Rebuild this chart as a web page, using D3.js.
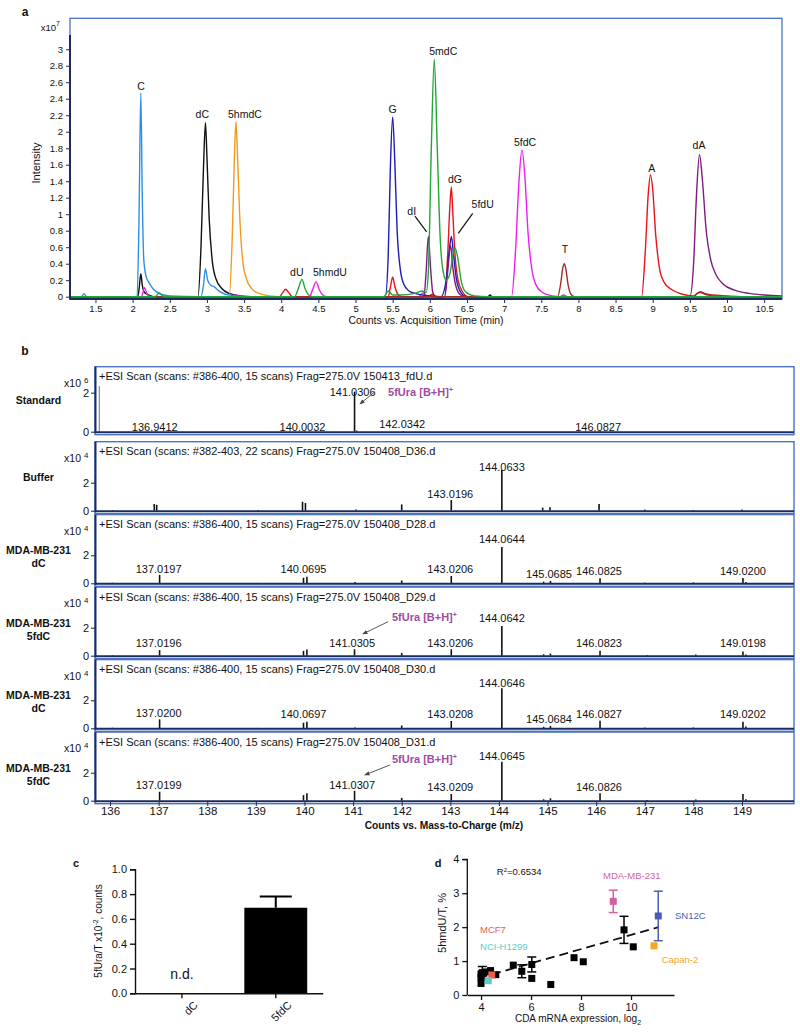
<!DOCTYPE html>
<html><head><meta charset="utf-8">
<script src="https://cdn.jsdelivr.net/npm/d3@7"></script>
<style>
body{margin:0;background:#fff}
svg{display:block}
text{font-family:"Liberation Sans",Arial,Helvetica,sans-serif;fill:#111}
</style></head>
<body><svg id="fig" width="800" height="1034"></svg>
<script>
// ================= DATA =================
// ---- panel a: chromatogram traces [time (min), intensity x10^7]
const aXTicks = [1.5,2,2.5,3,3.5,4,4.5,5,5.5,6,6.5,7,7.5,8,8.5,9,9.5,10,10.5];
const aYTicks = [0,0.2,0.4,0.6,0.8,1,1.2,1.4,1.6,1.8,2,2.2,2.4,2.6,2.8,3];
const traceBlack = [[1.157,0],[2.07,0],[2.09,0.12],[2.11,0.28],[2.13,0.14],[2.16,0.05],[2.22,0.02],[2.3,0],[2.88,0],[2.92,0.6],[2.955,1.6],[2.98,2.11],[3.0,1.7],[3.03,0.95],[3.07,0.45],[3.12,0.22],[3.2,0.1],[3.3,0.04],[3.45,0.01],[3.6,0],[6.78,0],[6.81,0.02],[6.84,0],[10.74,0]];
const traceLightBlue = [[1.157,0],[1.31,0],[1.345,0.035],[1.38,0],[2.06,0],[2.085,0.9],[2.11,2.47],[2.13,1.2],[2.15,0.45],[2.18,0.25],[2.22,0.17],[2.28,0.09],[2.38,0.03],[2.5,0.01],[2.92,0],[2.955,0.15],[2.98,0.34],[3.01,0.2],[3.05,0.14],[3.1,0.12],[3.16,0.07],[3.25,0.03],[3.4,0.01],[3.6,0],[10.74,0]];
const traceOrange = [[1.157,0],[3.3,0],[3.34,0.7],[3.37,1.7],[3.39,2.12],[3.41,1.75],[3.44,1.0],[3.48,0.45],[3.53,0.22],[3.6,0.1],[3.7,0.04],[3.85,0.01],[4.0,0],[6.0,0],[6.05,0.02],[6.1,0],[10.74,0]];
const traceMagenta = [[1.157,0],[2.12,0],[2.16,0.11],[2.2,0.02],[2.25,0],[3.35,0],[3.39,0.025],[3.43,0],[4.38,0],[4.42,0.08],[4.47,0.18],[4.51,0.09],[4.56,0.02],[4.62,0],[5.85,0],[5.91,0.05],[5.96,0],[7.1,0],[7.15,0.5],[7.2,1.4],[7.24,1.78],[7.28,1.45],[7.32,0.8],[7.37,0.35],[7.43,0.14],[7.52,0.05],[7.65,0.01],[7.75,0],[7.8,0.02],[7.85,0],[10.74,0]];
const traceRed = [[1.157,0],[3.98,0],[4.02,0.05],[4.06,0.09],[4.1,0.05],[4.15,0],[5.44,0],[5.47,0.12],[5.5,0.235],[5.53,0.12],[5.57,0.03],[5.62,0],[5.98,0],[6.03,0.03],[6.08,0],[6.2,0],[6.24,0.5],[6.27,1.1],[6.29,1.33],[6.31,1.0],[6.34,0.5],[6.38,0.2],[6.44,0.06],[6.52,0],[8.85,0],[8.9,0.55],[8.94,1.25],[8.97,1.48],[9.0,1.3],[9.04,0.75],[9.09,0.35],[9.15,0.18],[9.25,0.09],[9.4,0.03],[9.55,0.01],[9.6,0.04],[9.64,0.06],[9.7,0.04],[9.8,0.02],[10.0,0.01],[10.3,0],[10.74,0]];
const traceBlue = [[1.157,0],[5.4,0],[5.44,0.5],[5.47,1.6],[5.5,2.18],[5.53,1.6],[5.56,0.8],[5.6,0.35],[5.65,0.15],[5.72,0.07],[5.8,0.04],[5.9,0.02],[6.15,0],[6.22,0.2],[6.26,0.55],[6.29,0.73],[6.32,0.5],[6.36,0.2],[6.42,0.05],[6.5,0],[10.74,0]];
const tracePurple = [[1.157,0],[5.92,0],[5.95,0.3],[5.98,0.73],[6.01,0.35],[6.04,0.05],[6.08,0],[6.2,0],[6.24,0.3],[6.28,0.62],[6.31,0.35],[6.36,0.1],[6.42,0.02],[6.5,0],[9.5,0],[9.55,0.4],[9.59,1.25],[9.63,1.72],[9.67,1.4],[9.72,0.8],[9.78,0.45],[9.85,0.27],[9.95,0.15],[10.1,0.08],[10.3,0.04],[10.5,0.02],[10.74,0.01]];
const traceBrown = [[1.157,0],[7.72,0],[7.76,0.15],[7.79,0.35],[7.81,0.4],[7.83,0.34],[7.86,0.15],[7.9,0.03],[7.95,0],[9.55,0],[9.6,0.04],[9.64,0.05],[9.7,0.03],[9.8,0.01],[9.9,0],[10.74,0]];
const traceGreen = [[1.157,0],[2.3,0],[2.36,0.045],[2.42,0],[4.18,0],[4.23,0.1],[4.28,0.21],[4.32,0.1],[4.37,0.02],[4.42,0],[5.38,0],[5.44,0.07],[5.5,0.02],[5.6,0.02],[5.8,0.04],[5.9,0.07],[5.95,0.05],[5.98,0.3],[6.02,1.8],[6.06,2.88],[6.1,1.8],[6.14,0.7],[6.18,0.3],[6.22,0.2],[6.27,0.28],[6.31,0.5],[6.34,0.59],[6.38,0.45],[6.42,0.2],[6.48,0.06],[6.6,0.01],[6.8,0],[10.74,0]];
const aPeakNames  = ["C","dC","5hmdC","dU","5hmdU","G","dI","5mdC","dG","5fdU","5fdC","T","A","dA"];
const aPeakTimes  = [2.113,2.938,3.512,4.21,4.656,5.50,5.756,6.181,6.339,6.711,7.281,7.819,8.986,9.623];
const aPeakLevels = [2.505,2.166,2.166,0.255,0.255,2.223,0.99,2.93,1.38,1.075,1.83,0.526,1.508,1.79];
const aLeaders = [[5.80,0.978,5.957,0.787],[6.577,1.011,6.383,0.768]];

// ---- panel b: mass spectra [m/z, intensity]
const bXTicks = [136,137,138,139,140,141,142,143,144,145,146,147,148,149];
const msNames = [["Standard"],["Buffer"],["MDA-MB-231","dC"],["MDA-MB-231","5fdC"],["MDA-MB-231","dC"],["MDA-MB-231","5fdC"]];
const msExponent = ["6","4","4","4","4","4"];
const msHeaders = [
 "+ESI Scan (scans: #386-400, 15 scans) Frag=275.0V 150413_fdU.d",
 "+ESI Scan (scans: #382-403, 22 scans) Frag=275.0V 150408_D36.d",
 "+ESI Scan (scans: #386-400, 15 scans) Frag=275.0V 150408_D28.d",
 "+ESI Scan (scans: #386-400, 15 scans) Frag=275.0V 150408_D29.d",
 "+ESI Scan (scans: #386-400, 15 scans) Frag=275.0V 150408_D30.d",
 "+ESI Scan (scans: #386-400, 15 scans) Frag=275.0V 150408_D31.d"];
const msPeaks = [
 [[136.94,0.02],[140.0,0.02],[141.03,2.05],[141.07,0.06],[142.03,0.03],[146.08,0.02]],
 [[136.05,0.05],[136.91,0.48],[136.96,0.42],[139.05,0.05],[139.96,0.64],[140.02,0.55],[141.06,0.08],[142.0,0.45],[143.02,0.76],[144.06,2.9],[144.9,0.22],[145.05,0.25],[146.06,0.48],[147.0,0.08],[148.0,0.05],[149.0,0.08]],
 [[136.05,0.04],[137.02,0.6],[139.05,0.03],[139.98,0.4],[140.05,0.47],[141.04,0.1],[142.0,0.2],[143.02,0.52],[144.06,2.6],[144.92,0.12],[145.06,0.17],[146.08,0.36],[147.0,0.05],[148.0,0.06],[149.02,0.38],[149.08,0.1]],
 [[136.05,0.04],[137.02,0.4],[139.98,0.35],[140.05,0.45],[141.03,0.46],[142.0,0.2],[143.02,0.46],[144.06,2.12],[144.92,0.1],[145.06,0.15],[146.08,0.36],[147.05,0.05],[148.05,0.08],[149.02,0.3],[149.08,0.08]],
 [[136.05,0.04],[137.02,0.64],[139.05,0.03],[139.98,0.4],[140.05,0.47],[141.04,0.05],[142.0,0.2],[143.02,0.52],[144.06,2.86],[144.92,0.1],[145.06,0.17],[146.08,0.54],[147.0,0.05],[148.0,0.06],[149.02,0.47],[149.08,0.12]],
 [[136.05,0.04],[137.02,0.64],[139.98,0.4],[140.05,0.53],[141.03,0.71],[142.0,0.2],[143.02,0.48],[144.06,2.78],[144.92,0.1],[145.06,0.17],[146.08,0.53],[147.05,0.05],[148.05,0.08],[149.02,0.48],[149.08,0.1]]];
const msStdSolventPeak = [135.78, 2.34];
const msLabels = [
 [[136.92,0.05,"136.9412"],[139.96,0.05,"140.0032"],[140.99,1.85,"141.0306"],[142.01,0.19,"142.0342"],[146.04,0.05,"146.0827"]],
 [[143.0,0.91,"143.0196"],[144.06,2.84,"144.0633"]],
 [[137.0,0.74,"137.0197"],[139.98,0.74,"140.0695"],[143.0,0.72,"143.0206"],[144.06,2.86,"144.0644"],[145.03,0.36,"145.0685"],[146.06,0.57,"146.0825"],[149.02,0.57,"149.0200"]],
 [[137.0,0.64,"137.0196"],[140.98,0.64,"141.0305"],[143.0,0.64,"143.0206"],[144.06,2.39,"144.0642"],[146.06,0.64,"146.0823"],[149.02,0.64,"149.0198"]],
 [[137.0,0.83,"137.0200"],[139.98,0.71,"140.0697"],[143.0,0.71,"143.0208"],[144.06,2.93,"144.0646"],[145.03,0.36,"145.0684"],[146.06,0.71,"146.0827"],[149.02,0.71,"149.0202"]],
 [[137.0,0.84,"137.0199"],[140.98,0.84,"141.0307"],[143.0,0.71,"143.0209"],[144.06,2.9,"144.0645"],[146.06,0.71,"146.0826"]]];
// 5fUra annotations: panel index, label [mz, level], arrow [mz1, lvl1, mz2, lvl2]
const fUraPanels = [0,3,5];
const fUraLabelPos = [[141.72,1.85],[141.8,2.46],[141.8,2.67]];
const fUraArrows = [[141.45,2.05,141.14,1.42],[141.72,2.43,141.2,1.55],[141.76,2.55,141.24,1.84]];

// ---- panel c: bar chart
const cCategories = ["dC","5fdC"];
const cValues = [0, 0.69];
const cErrors = [0, 0.09];
const cDetected = [false, true];
const cYTicks = [0,0.2,0.4,0.6,0.8,1.0];

// ---- panel d: scatter
const dBlackX = [4.0,4.0,4.0,4.05,4.22,4.38,4.59,5.29,5.63,6.03,6.03,6.79,7.72,8.09,9.72,10.09];
const dBlackY = [0.34,0.52,0.62,0.66,0.68,0.72,0.6,0.88,0.7,0.9,0.49,0.31,1.1,0.98,1.92,1.42];
const dBlackErr = [0,0,0,0.18,0,0,0,0,0.19,0.22,0,0,0,0,0.4,0];
const dLines = ["MDA-MB-231","SN12C","Capan-2","MCF7","NCI-H1299"];
const dLineX = [9.29,11.09,10.92,4.43,4.29];
const dLineY = [2.76,2.33,1.45,0.59,0.42];
const dLineErr = [0.33,0.73,0,0,0];
const dLabelX = [10.03,11.76,11.23,3.96,3.96];
const dLabelY = [3.41,2.24,0.95,1.84,1.34];
const dLabelAnchor = ["middle","start","start","start","start"];
const dFitSlope = 0.209, dFitIntercept = -0.32, dFitRange = [3.9, 11.1];
const dR2 = "0.6534";
const dXTicks = [4,6,8,10];
const dYTicks = [0,1,2,3,4];

// ================= DRAWING =================
const svg = d3.select("#fig");
const boxBlue = "#4a73c2", axisDark = "#1d2b5e";

// ---------- Panel a ----------
{
  const g = svg.append("g");
  const x = d3.scaleLinear().domain([1.157,10.74]).range([70,782]);
  const y = d3.scaleLinear().domain([0,3.375]).range([296.7,18.3]);
  g.append("text").attr("x",25).attr("y",16).attr("text-anchor","middle")
    .style("font-weight","bold").style("font-size","12px").text("a");
  g.append("rect").attr("x",70).attr("y",18.3).attr("width",712).attr("height",280.7)
    .attr("fill","none").attr("stroke",boxBlue).attr("stroke-width",1.3);
  const traces = [
    [traceBlack,"#111111"],[traceLightBlue,"#2f8fe6"],[traceOrange,"#f39a1e"],
    [traceMagenta,"#ee1ff0"],[traceRed,"#e8141c"],[traceBlue,"#1d1db8"],
    [tracePurple,"#7f1a80"],[traceBrown,"#a12d2d"],[traceGreen,"#22a637"]];
  const line = d3.line().x(d=>x(d[0])).y(d=>y(d[1])).curve(d3.curveMonotoneX);
  traces.forEach(([pts,c])=>{
    g.append("path").attr("d",line(pts)).attr("fill","none").attr("stroke",c).attr("stroke-width",1.4);
  });
  const ya = g.append("g").attr("transform","translate(70,0)")
    .call(d3.axisLeft(y).tickValues(aYTicks).tickSize(4).tickPadding(3).tickFormat(d=>String(d)));
  ya.select(".domain").remove();
  ya.selectAll("line").attr("stroke",axisDark);
  ya.selectAll("text").style("font-size","9.5px").attr("fill","#111");
  g.append("line").attr("x1",70).attr("x2",70).attr("y1",35).attr("y2",299.5)
    .attr("stroke",axisDark).attr("stroke-width",2);
  const xa = g.append("g").attr("transform","translate(0,299)")
    .call(d3.axisBottom(x).tickValues(aXTicks).tickSize(4).tickPadding(2).tickFormat(d=>String(d)));
  xa.select(".domain").remove();
  xa.selectAll("line").attr("stroke",axisDark);
  xa.selectAll("text").style("font-size","9.5px").attr("fill","#111");
  g.append("line").attr("x1",70).attr("x2",782).attr("y1",299).attr("y2",299)
    .attr("stroke",axisDark).attr("stroke-width",2.2);
  g.append("text").attr("x",56).attr("y",31).attr("text-anchor","end").style("font-size","9.5px").text("x10");
  g.append("text").attr("x",56).attr("y",26).style("font-size","7px").text("7");
  g.append("text").attr("transform","translate(40,163) rotate(-90)").attr("text-anchor","middle")
    .style("font-size","11px").text("Intensity");
  g.append("text").attr("x",426).attr("y",324).attr("text-anchor","middle")
    .style("font-size","10.5px").text("Counts vs. Acquisition Time (min)");
  aPeakNames.forEach((n,i)=>{
    g.append("text").attr("x",x(aPeakTimes[i])).attr("y",y(aPeakLevels[i])).attr("text-anchor","middle")
      .style("font-size","10.5px").text(n);
  });
  aLeaders.forEach(l=>{
    g.append("line").attr("x1",x(l[0])).attr("y1",y(l[1])).attr("x2",x(l[2])).attr("y2",y(l[3]))
      .attr("stroke","#111").attr("stroke-width",1.2);
  });
}

// ---------- Panel b ----------
{
  const g = svg.append("g");
  const defs = svg.append("defs");
  defs.append("marker").attr("id","arr").attr("viewBox","0 0 10 10").attr("refX",9).attr("refY",5)
    .attr("markerWidth",6).attr("markerHeight",6).attr("orient","auto-start-reverse")
    .append("path").attr("d","M0,1 L10,5 L0,9 z").attr("fill","#444");
  const x = d3.scaleLinear().domain([135.691,150.07]).range([95,794]);
  const zeroY = [431.7,510.7,583.3,655.7,728.3,800.7];
  const topY  = [366.7,441.7,514.6,587.1,659.6,732.1];
  const unitPx = [19.5,14,14,14,14,14];
  g.append("text").attr("x",25).attr("y",355).attr("text-anchor","middle")
    .style("font-weight","bold").style("font-size","12px").text("b");
  msNames.forEach((names,i)=>{
    const z = zeroY[i], t = topY[i];
    const y = d3.scaleLinear().domain([0,1]).range([z, z-unitPx[i]]);
    g.append("rect").attr("x",95).attr("y",t).attr("width",699).attr("height",z+3-t)
      .attr("fill","none").attr("stroke",boxBlue).attr("stroke-width",1.4);
    g.append("text").attr("x",99).attr("y",t+13.5).style("font-size","11px").text(msHeaders[i]);
    g.append("text").attr("x",81).attr("y",t+20).attr("text-anchor","end").style("font-size","10.5px").text("x10");
    g.append("text").attr("x",84).attr("y",t+16).style("font-size","8px").text(msExponent[i]);
    const ya = g.append("g").attr("transform","translate(95,0)")
      .call(d3.axisLeft(y).tickValues([0,2]).tickSize(4).tickPadding(2).tickFormat(d=>String(d)));
    ya.select(".domain").remove();
    ya.selectAll("line").attr("stroke","#222");
    ya.selectAll("text").style("font-size","11px").attr("fill","#111");
    const cy = names.length===1 ? (i===0 ? z-32 : z-34) : z-29;
    names.forEach((n,k)=>{
      g.append("text").attr("x",38.5).attr("y",cy+k*13+(names.length===1?4:0)).attr("text-anchor","middle")
        .style("font-weight","bold").style("font-size","10.5px").text(n);
    });
    if(i===0){
      g.append("line").attr("x1",x(msStdSolventPeak[0])).attr("x2",x(msStdSolventPeak[0]))
        .attr("y1",y(0)).attr("y2",y(msStdSolventPeak[1])).attr("stroke","#8a8a8a").attr("stroke-width",1.2);
    }
    msPeaks[i].forEach(p=>{
      g.append("line").attr("x1",x(p[0])).attr("x2",x(p[0])).attr("y1",y(0)).attr("y2",y(p[1]))
        .attr("stroke","#111").attr("stroke-width",1.6);
    });
    msLabels[i].forEach(l=>{
      g.append("text").attr("x",x(l[0])).attr("y",y(l[1])).attr("text-anchor","middle")
        .style("font-size","11px").text(l[2]);
    });
    g.append("line").attr("x1",95).attr("x2",794).attr("y1",z+0.5).attr("y2",z+0.5)
      .attr("stroke",axisDark).attr("stroke-width",2);
    g.append("line").attr("x1",95.5).attr("x2",95.5).attr("y1",t).attr("y2",z+1.5)
      .attr("stroke",axisDark).attr("stroke-width",2);
    const fi = fUraPanels.indexOf(i);
    if(fi>=0){
      const lp = fUraLabelPos[fi], ar = fUraArrows[fi];
      const tx = g.append("text").attr("x",x(lp[0])).attr("y",y(lp[1])).style("font-size","11px")
        .style("font-weight","bold").style("fill","#a04ca0");
      tx.append("tspan").text("5fUra [B+H]");
      tx.append("tspan").attr("dy",-4).style("font-size","7px").text("+");
      g.append("line").attr("x1",x(ar[0])).attr("y1",y(ar[1])).attr("x2",x(ar[2])).attr("y2",y(ar[3]))
        .attr("stroke","#444").attr("stroke-width",0.9).attr("marker-end","url(#arr)");
    }
  });
  const xa = g.append("g").attr("transform","translate(0,802)")
    .call(d3.axisBottom(x).tickValues(bXTicks).tickSize(4).tickPadding(1).tickFormat(d=>String(d)));
  xa.select(".domain").remove();
  xa.selectAll("line").attr("stroke",axisDark);
  xa.selectAll("text").style("font-size","11.5px").attr("fill","#111");
  g.append("text").attr("x",444).attr("y",829).attr("text-anchor","middle")
    .style("font-weight","bold").style("font-size","10.2px").text("Counts vs. Mass-to-Charge (m/z)");
}

// ---------- Panel c ----------
{
  const g = svg.append("g");
  const y = d3.scaleLinear().domain([0,1]).range([993.3,869.3]);
  const x = d3.scaleBand().domain(cCategories).range([135,322.7]).paddingInner(0.33).paddingOuter(0.165);
  g.append("text").attr("x",76).attr("y",867).attr("text-anchor","middle")
    .style("font-weight","bold").style("font-size","11px").text("c");
  cCategories.forEach((c,i)=>{
    if(cDetected[i]){
      g.append("rect").attr("x",x(c)).attr("y",y(cValues[i])).attr("width",x.bandwidth())
        .attr("height",y(0)-y(cValues[i])).attr("fill","#000");
      const cx = x(c)+x.bandwidth()/2;
      g.append("line").attr("x1",cx).attr("x2",cx).attr("y1",y(cValues[i])).attr("y2",y(cValues[i]+cErrors[i]))
        .attr("stroke","#000").attr("stroke-width",2);
      g.append("line").attr("x1",cx-16).attr("x2",cx+16).attr("y1",y(cValues[i]+cErrors[i])).attr("y2",y(cValues[i]+cErrors[i]))
        .attr("stroke","#000").attr("stroke-width",2);
    } else {
      g.append("text").attr("x",x(c)+x.bandwidth()/2).attr("y",979).attr("text-anchor","middle")
        .style("font-size","14px").text("n.d.");
    }
  });
  const ya = g.append("g").attr("transform","translate(135,0)")
    .call(d3.axisLeft(y).tickValues(cYTicks).tickSize(5).tickPadding(3).tickFormat(d3.format(".1f")));
  ya.select(".domain").attr("stroke","#111").attr("stroke-width",1.4);
  ya.selectAll("line").attr("stroke","#111").attr("stroke-width",1.4);
  ya.selectAll("text").style("font-size","11px").attr("fill","#222");
  const xa = g.append("g").attr("transform","translate(0,993.3)")
    .call(d3.axisBottom(x).tickSize(5).tickSizeOuter(0));
  xa.select(".domain").attr("stroke","#111").attr("stroke-width",1.4);
  xa.selectAll("line").attr("stroke","#111").attr("stroke-width",1.4);
  xa.selectAll("text").style("font-size","11px").attr("fill","#222")
    .attr("text-anchor","end").attr("transform","translate(6,2) rotate(-45)").attr("dy","0.9em").attr("y",5);
  const tt = g.append("text").attr("transform","translate(102,931) rotate(-90)").attr("text-anchor","middle")
    .style("font-size","10px");
  tt.append("tspan").text("5fUra/T x10");
  tt.append("tspan").attr("dy",-4).style("font-size","7px").text("-2");
  tt.append("tspan").attr("dy",4).text(", counts");
}

// ---------- Panel d ----------
{
  const g = svg.append("g");
  const x = d3.scaleLinear().domain([3.45,11.72]).range([467.3,674]);
  const y = d3.scaleLinear().domain([0,4]).range([995,859.3]);
  const colors = ["#d45f9e","#4a5fb0","#f5a623","#e8604c","#5ccccc"];
  g.append("text").attr("x",438).attr("y",867).attr("text-anchor","middle")
    .style("font-weight","bold").style("font-size","11px").text("d");
  const ya = g.append("g").attr("transform","translate(467.3,0)")
    .call(d3.axisLeft(y).tickValues(dYTicks).tickSize(5).tickPadding(3).tickFormat(d=>String(d)));
  const xa = g.append("g").attr("transform","translate(0,995)")
    .call(d3.axisBottom(x).tickValues(dXTicks).tickSize(5).tickPadding(3).tickSizeOuter(0).tickFormat(d=>String(d)));
  [ya,xa].forEach(a=>{
    a.select(".domain").attr("stroke","#111").attr("stroke-width",1.3);
    a.selectAll("line").attr("stroke","#111").attr("stroke-width",1.3);
    a.selectAll("text").style("font-size","11px").attr("fill","#222");
  });
  ya.select(".domain").attr("d","M-5,859.3H0V995");
  g.append("line").attr("x1",x(dFitRange[0])).attr("y1",y(dFitIntercept+dFitSlope*dFitRange[0]))
    .attr("x2",x(dFitRange[1])).attr("y2",y(dFitIntercept+dFitSlope*dFitRange[1]))
    .attr("stroke","#111").attr("stroke-width",1.8).attr("stroke-dasharray","9,5");
  const errbar = (cx,cyv,e,col)=>{
    if(!e) return;
    g.append("line").attr("x1",x(cx)).attr("x2",x(cx)).attr("y1",y(cyv-e)).attr("y2",y(cyv+e)).attr("stroke",col).attr("stroke-width",1.5);
    [cyv-e,cyv+e].forEach(v=>g.append("line").attr("x1",x(cx)-4.5).attr("x2",x(cx)+4.5).attr("y1",y(v)).attr("y2",y(v)).attr("stroke",col).attr("stroke-width",1.5));
  };
  const s = 7;
  dBlackX.forEach((v,i)=>{
    errbar(v,dBlackY[i],dBlackErr[i],"#000");
    g.append("rect").attr("x",x(v)-s/2).attr("y",y(dBlackY[i])-s/2).attr("width",s).attr("height",s).attr("fill","#000");
  });
  dLines.forEach((n,i)=>{
    errbar(dLineX[i],dLineY[i],dLineErr[i],colors[i]);
    g.append("rect").attr("x",x(dLineX[i])-s/2).attr("y",y(dLineY[i])-s/2).attr("width",s).attr("height",s).attr("fill",colors[i]);
    g.append("text").attr("x",x(dLabelX[i])).attr("y",y(dLabelY[i])).attr("text-anchor",dLabelAnchor[i])
      .style("font-size","9.5px").style("fill",colors[i]).text(n);
  });
  const r = g.append("text").attr("x",x(4.63)).attr("y",y(3.53)).style("font-size","9.5px");
  r.append("tspan").text("R");
  r.append("tspan").attr("dy",-3).style("font-size","6px").text("2");
  r.append("tspan").attr("dy",3).text("="+dR2);
  const xt = g.append("text").attr("x",578).attr("y",1022).attr("text-anchor","middle").style("font-size","10px");
  xt.append("tspan").text("CDA mRNA expression, log");
  xt.append("tspan").attr("dy",3).style("font-size","7px").text("2");
  g.append("text").attr("transform","translate(446,923) rotate(-90)").attr("text-anchor","middle")
    .style("font-size","11px").text("5hmdU/T, %");
}
</script></body></html>
